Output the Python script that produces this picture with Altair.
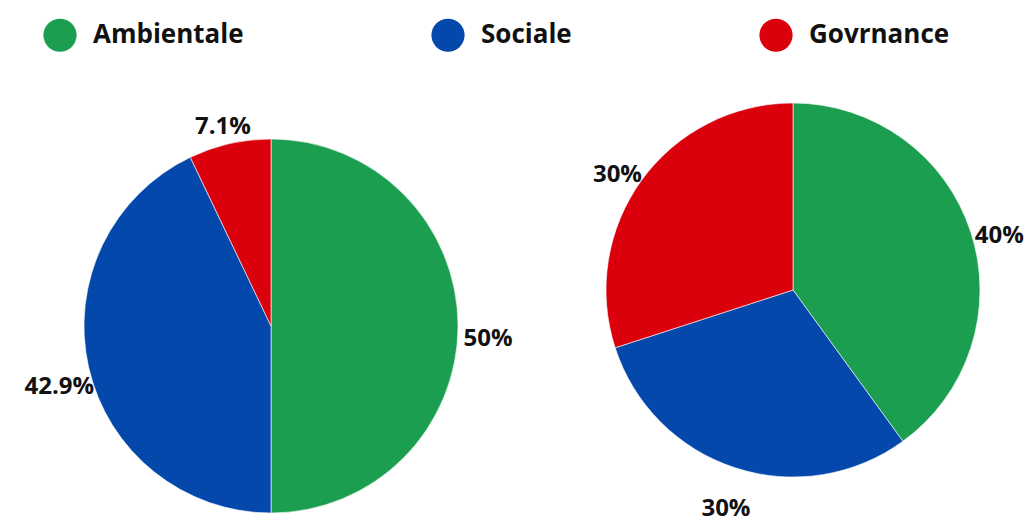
import altair as alt
import pandas as pd

categories = ["Ambientale", "Sociale", "Govrnance"]
colors = ["#1b9e50", "#0348aa", "#da000c"]
pies = ["Grafico 1", "Grafico 2"]
values_1 = [50.0, 42.9, 7.1]
values_2 = [40.0, 30.0, 30.0]
labels_1 = ["50%", "42.9%", "7.1%"]
labels_2 = ["40%", "30%", "30%"]

rows = []
for pie, vals, labs in [(pies[0], values_1, labels_1), (pies[1], values_2, labels_2)]:
    for i, (c, v, l) in enumerate(zip(categories, vals, labs)):
        rows.append({"pie": pie, "categoria": c, "valore": v, "etichetta": l, "ordine": i})
df = pd.DataFrame(rows)

theta_scale = alt.Scale(domain=[0, 1])

base = alt.Chart(df).transform_joinaggregate(
    totale="sum(valore)", groupby=["pie"]
).transform_window(
    cum="sum(valore)", groupby=["pie"], sort=[alt.SortField("ordine")], frame=[None, 0]
).transform_calculate(
    inizio="(datum.cum - datum.valore) / datum.totale",
    fine="datum.cum / datum.totale",
    medio="(datum.cum - datum.valore / 2) / datum.totale",
).encode(
    x=alt.X("pie:N", scale=alt.Scale(type="point", domain=pies, range=[263, 785], padding=0), axis=None),
    y=alt.Y("pie:N", scale=alt.Scale(type="point", domain=pies, range=[318, 282], padding=0), axis=None),
)

arcs = base.mark_arc(radius=187, stroke="white", strokeWidth=0.6).encode(
    theta=alt.Theta("inizio:Q", scale=theta_scale, stack=None),
    theta2="fine:Q",
    color=alt.Color(
        "categoria:N",
        scale=alt.Scale(domain=categories, range=colors),
        legend=alt.Legend(title=None),
    ),
)

labels = base.mark_text(
    radius=217, dy=13, font="Open Sans", fontSize=24, fontWeight="bold", color="#111111"
).encode(
    theta=alt.Theta("medio:Q", scale=theta_scale, stack=None),
    text="etichetta:N",
)

chart = alt.layer(arcs, labels).properties(
    width=1017, height=500, padding=0
).configure_view(stroke=None).configure_legend(
    orient="none",
    legendX=35,
    legendY=10,
    direction="horizontal",
    symbolType="circle",
    symbolSize=1100,
    symbolStrokeWidth=0,
    labelFont="Open Sans",
    labelFontSize=26,
    labelFontWeight="bold",
    labelColor="#111111",
    labelOffset=16,
    labelLimit=400,
    columnPadding=187,
    padding=0,
)

chart.save("out.html", embed_options={"renderer": "svg", "actions": False})
